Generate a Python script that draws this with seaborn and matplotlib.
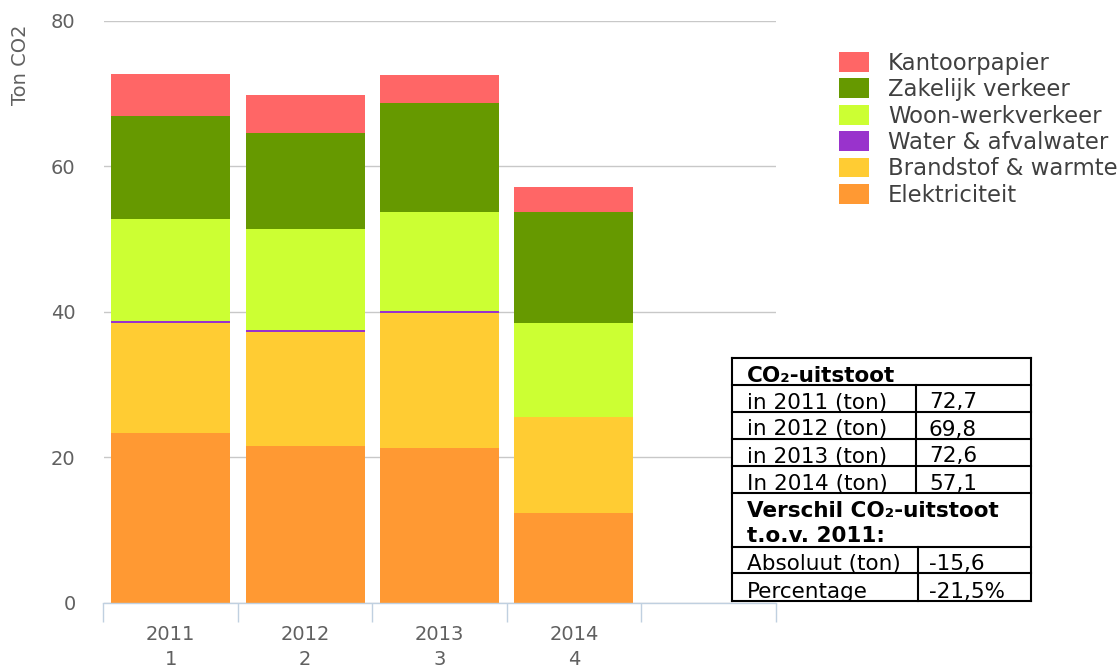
import matplotlib
matplotlib.use('Agg')
import matplotlib.pyplot as plt
from matplotlib.patches import Patch
import numpy as np
import seaborn as sns

# bar data (ton CO2)
years = ['2011', '2012', '2013', '2014']
year_idx = ['1', '2', '3', '4']
elektriciteit = [23.3, 21.5, 21.2, 12.3]
brandstof = [15.1, 15.7, 18.6, 13.2]
water = [0.3, 0.3, 0.3, 0.0]
woon_werk = [14.1, 13.8, 13.6, 12.9]
zakelijk = [14.1, 13.2, 15.0, 15.3]
kantoorpapier = [5.8, 5.3, 3.9, 3.4]

# stack order bottom -> top
series_names = ['Elektriciteit', 'Brandstof & warmte', 'Water & afvalwater',
                'Woon-werkverkeer', 'Zakelijk verkeer', 'Kantoorpapier']
series_vals = [elektriciteit, brandstof, water, woon_werk, zakelijk, kantoorpapier]
series_cols = ['#ff9933', '#ffcc33', '#9933cc', '#ccff33', '#669900', '#ff6666']

# table data
tbl_title = 'CO\u2082-uitstoot'
tbl_labels = ['in 2011 (ton)', 'in 2012 (ton)', 'in 2013 (ton)', 'In 2014 (ton)']
tbl_values = ['72,7', '69,8', '72,6', '57,1']
tbl_diff_title = ['Verschil CO\u2082-uitstoot', 't.o.v. 2011:']
tbl_diff_labels = ['Absoluut (ton)', 'Percentage']
tbl_diff_values = ['-15,6', '-21,5%']

W, H = 1118, 668
fig = plt.figure(figsize=(W / 100, H / 100), dpi=100)
ax = fig.add_axes([103.5 / W, 1 - 602.7 / H, (775.5 - 103.5) / W, (602.7 - 20.7) / H])

cum = np.cumsum(np.array(series_vals), axis=0)
# draw cumulative totals from top to bottom so lower layers cover upper ones
for i in range(len(series_names) - 1, -1, -1):
    sns.barplot(x=years, y=cum[i], color=series_cols[i], saturation=1,
                width=0.885, linewidth=0, errorbar=None, ax=ax, zorder=2)

ax.set_xlim(-0.5, 4.5)
ax.set_ylim(0, 80)
ax.set_yticks([0, 20, 40, 60, 80])
ax.yaxis.grid(True, color='#c8c8c8', lw=1)
ax.set_axisbelow(True)
for s in ['left', 'right', 'top']:
    ax.spines[s].set_visible(False)
ax.spines['bottom'].set_color('#c0d0e0')
ax.spines['bottom'].set_linewidth(1)
ax.spines['bottom'].set_zorder(3)

ax.set_xticks(range(len(years)))
ax.set_xticklabels([f'{y}\n{i}' for y, i in zip(years, year_idx)], linespacing=1.4)
ax.set_xticks(np.arange(-0.5, 5, 1), minor=True)
ax.tick_params(axis='x', which='major', length=0, pad=16, labelsize=14, labelcolor='#606060')
ax.tick_params(axis='x', which='minor', length=13.7, width=1, color='#c0d0e0')
ax.tick_params(axis='y', length=0, pad=20, labelsize=14, labelcolor='#606060')
ax.set_xlabel('')
ax.set_ylabel('')

fig.text(21 / W, 1 - 65 / H, 'Ton CO2', rotation=90, ha='center', va='center',
         fontsize=14, color='#606060')

# legend, top entry is the top of the stack
handles = [Patch(facecolor=c, edgecolor='none') for c in series_cols[::-1]]
fig.legend(handles, series_names[::-1], loc='upper left',
           bbox_to_anchor=(839 / W, 1 - 51.7 / H), frameon=False, borderpad=0,
           borderaxespad=0, fontsize=16.4, handlelength=1.32, handleheight=0.96,
           handletextpad=0.83, labelspacing=0.15, labelcolor='#404040')

# table overlay in pixel coordinates
ov = fig.add_axes([0, 0, 1, 1], facecolor='none')
ov.set_xlim(0, W)
ov.set_ylim(H, 0)
ov.axis('off')

left, right = 732, 1031
rows = [358, 384.5, 411.5, 438.5, 465.5, 493.3, 546.5, 573, 600.5]
ov.fill_between([left, right], rows[0], rows[-1], color='white', zorder=1)
for y in rows:
    ov.plot([left, right], [y, y], color='black', lw=1.5, solid_capstyle='projecting', zorder=2)
ov.plot([left, left], [rows[0], rows[-1]], color='black', lw=1.5, zorder=2)
ov.plot([right, right], [rows[0], rows[-1]], color='black', lw=1.5, zorder=2)
ov.plot([916, 916], [rows[1], rows[5]], color='black', lw=1.5, zorder=2)
ov.plot([917.5, 917.5], [rows[6], rows[8]], color='black', lw=1.5, zorder=2)

tx_l, tx_r, fs = 747, 929, 15.5
ov.text(tx_l, rows[1] - 3, tbl_title, fontsize=fs, fontweight='bold', va='baseline', zorder=3)
for k, (lab, val) in enumerate(zip(tbl_labels, tbl_values)):
    ov.text(tx_l, rows[k + 2] - 3, lab, fontsize=fs, va='baseline', zorder=3)
    ov.text(tx_r, rows[k + 2] - 3, val, fontsize=fs, va='baseline', zorder=3)
ov.text(tx_l, 517, tbl_diff_title[0], fontsize=fs, fontweight='bold', va='baseline', zorder=3)
ov.text(tx_l, rows[6] - 4, tbl_diff_title[1], fontsize=fs, fontweight='bold', va='baseline', zorder=3)
for k, (lab, val) in enumerate(zip(tbl_diff_labels, tbl_diff_values)):
    ov.text(tx_l, rows[k + 7] - 3, lab, fontsize=fs, va='baseline', zorder=3)
    ov.text(tx_r, rows[k + 7] - 3, val, fontsize=fs, va='baseline', zorder=3)

fig.savefig('out.png', dpi=100)
